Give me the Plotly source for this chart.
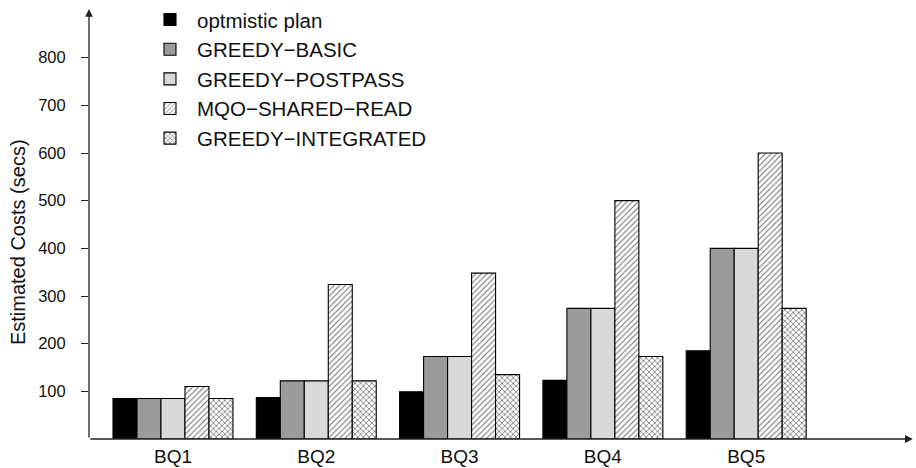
import plotly.graph_objects as go

categories = ["BQ1", "BQ2", "BQ3", "BQ4", "BQ5"]
series_names = ["optmistic plan", "GREEDY−BASIC", "GREEDY−POSTPASS",
                "MQO−SHARED−READ", "GREEDY−INTEGRATED"]
optimistic = [85, 87, 99, 123, 185]
greedy_basic = [85, 122, 173, 274, 400]
greedy_postpass = [85, 122, 173, 274, 400]
mqo_shared_read = [110, 324, 348, 500, 600]
greedy_integrated = [85, 122, 135, 173, 274]
y_ticks = [100, 200, 300, 400, 500, 600, 700, 800]

FONT = "Liberation Sans, Arial, Helvetica, sans-serif"
xpos = list(range(len(categories)))

styles = [
    dict(marker_color="#000000"),
    dict(marker_color="#9b9b9b"),
    dict(marker_color="#d9d9d9"),
    dict(marker_color="#ffffff",
         marker_pattern=dict(shape="/", fgcolor="#6e6e6e", bgcolor="#ffffff",
                             size=4, solidity=0.25, fillmode="replace")),
    dict(marker_color="#ffffff",
         marker_pattern=dict(shape="x", fgcolor="#6e6e6e", bgcolor="#ffffff",
                             size=4, solidity=0.35, fillmode="replace")),
]
data = [optimistic, greedy_basic, greedy_postpass, mqo_shared_read, greedy_integrated]

fig = go.Figure()
for name, vals, st in zip(series_names, data, styles):
    fig.add_trace(go.Bar(x=xpos, y=vals, name=name,
                         marker_line_color="#000000", marker_line_width=1.1, **st))

fig.update_layout(
    width=916, height=468,
    margin=dict(l=89, r=4, t=10, b=29, autoexpand=False),
    paper_bgcolor="white", plot_bgcolor="white",
    barmode="group", bargap=0.163, bargroupgap=0,
    font=dict(family=FONT, color="#111111"),
    showlegend=True,
    legend=dict(x=0.0656, xanchor="left", y=1.024, yanchor="top",
                font=dict(size=20.5, family=FONT, color="#111111"),
                bgcolor="rgba(0,0,0,0)", itemwidth=44,
                traceorder="normal"),
    xaxis=dict(range=[-0.586, 5.157], tickvals=xpos, ticktext=categories,
               showgrid=False, zeroline=False, showline=False, ticks="",
               tickfont=dict(size=19, family=FONT, color="#111111"),
               ticklabelstandoff=4),
    yaxis=dict(range=[0, 900], tickvals=y_ticks, showgrid=False, zeroline=False,
               showline=False, ticks="outside", ticklen=7, tickwidth=1,
               tickcolor="#222222",
               tickfont=dict(size=16.5, family=FONT, color="#111111"),
               ticklabelstandoff=12),
)

# axis arrows
fig.add_annotation(xref="paper", yref="paper", x=0, y=1.0023, ax=0, ay=430,
                   axref="pixel", ayref="pixel", showarrow=True, arrowhead=2,
                   arrowsize=1.2, arrowwidth=1.3, arrowcolor="#222222", text="")
fig.add_annotation(xref="paper", yref="paper", x=1.001, y=0, ax=-824, ay=0,
                   axref="pixel", ayref="pixel", showarrow=True, arrowhead=2,
                   arrowsize=1.2, arrowwidth=1.3, arrowcolor="#222222", text="")
# y title
fig.add_annotation(xref="paper", yref="paper", x=-0.0863, y=0.459,
                   xanchor="center", yanchor="middle",
                   text="Estimated Costs (secs)", textangle=-90, showarrow=False,
                   font=dict(size=20, family=FONT, color="#111111"))

fig.write_html("out.html")
